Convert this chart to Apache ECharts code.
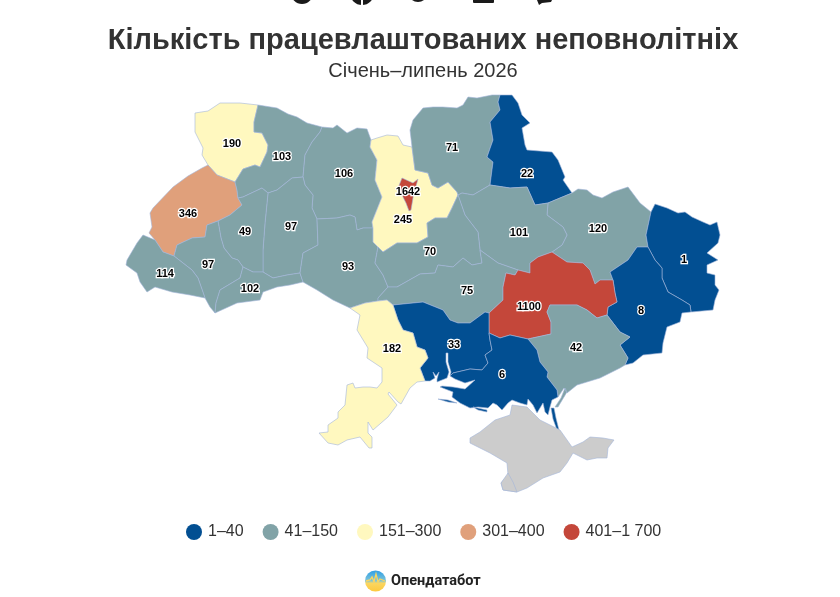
<!DOCTYPE html>
<html>
<head>
<meta charset="utf-8">
<style>html,body{margin:0;padding:0;background:#fff}#c{width:840px;height:597px}</style>
<script src="https://cdn.jsdelivr.net/npm/echarts@6/dist/echarts.min.js"></script>
</head>
<body>
<div id="c"></div>
<script>
// ---------- chart data ----------
const regionNames = ['Волинська','Львівська','Рівненська','Житомирська','Хмельницька','Тернопільська','Івано-Франківська','Закарпатська','Чернівецька','Вінницька','Київська','Чернігівська','Сумська','Харківська','Луганська','Донецька','Полтавська','Черкаська','Кіровоградська','Дніпропетровська','Запорізька','Миколаївська','Херсонська','Одеська','м. Київ'];
const regionValues = [190,346,103,106,97,49,97,114,102,93,245,71,22,120,1,8,101,70,75,1100,42,33,6,182,1642];
const legendLabels = ['1–40','41–150','151–300','301–400','401–1 700'];
const legendLower = [1,41,151,301,401];
const legendUpper = [40,150,300,400,1700];
const legendColors = ['#024f92','#81a3a7','#fff8bf','#e0a07b','#c4473a'];
const titleText = 'Кількість працевлаштованих неповнолітніх';
const subtitleText = 'Січень–липень 2026';
const brandText = 'Опендатабот';

// ---------- map outline (base geometry, shared borders) ----------
const E = {
volOut:[[208,165],[202,155],[203,148],[195,132],[195,113],[208,111],[220,103],[240,103],[258,105]],
volRiv:[[258,105],[254,122],[254,132],[262,133],[268,145],[267,152],[260,167],[255,165],[243,169],[235,182]],
volLv:[[235,182],[217,175],[208,165]],
lvOut:[[208,165],[202,168],[188,176],[173,187],[153,208],[150,213],[152,227],[149,233],[155,240]],
lvZak:[[155,240],[163,252],[174,256]],
lvIf:[[174,256],[177,245],[192,238],[205,237],[207,225],[218,221]],
lvTe:[[218,221],[230,215],[242,205],[238,198]],
lvRiv:[[238,198],[237,190],[235,182]],
rivOut:[[258,105],[277,108],[288,114],[297,117],[307,123],[322,127]],
rivZh:[[322,127],[320,132],[312,142],[305,155],[303,177]],
rivKhm:[[303,177],[292,178],[277,190],[268,193]],
rivTe:[[268,193],[262,188],[243,197],[238,198]],
teKhm:[[268,193],[265,223],[263,250],[263,272]],
teIf:[[218,221],[221,238],[224,248],[232,258],[238,260],[243,267]],
teCh:[[243,267],[253,272],[263,272]],
khmCh:[[263,272],[273,278],[287,275],[300,273]],
khmVn:[[300,273],[303,253],[318,245],[317,219]],
khmZh:[[303,177],[305,185],[313,195],[312,208],[317,219]],
chOut:[[303,282],[290,285],[277,287],[263,292],[260,300],[237,303],[215,313]],
chVn:[[300,273],[303,282]],
chIf:[[243,267],[240,278],[220,290],[216,303],[215,313]],
ifZak:[[174,256],[192,270],[198,278],[205,298]],
ifOut:[[205,298],[210,307],[215,313]],
zakOut:[[155,240],[143,235],[137,243],[127,260],[126,265],[137,273],[140,282],[147,292],[155,287],[172,292],[190,295],[205,298]],
zhVn:[[317,219],[337,218],[350,215],[355,217],[357,230],[363,228],[373,228]],
kyZh:[[373,228],[372,222],[382,197],[375,180],[377,160],[370,147],[371,140]],
zhOut:[[322,127],[333,128],[337,125],[347,133],[357,128],[367,129],[371,140]],
kyVn:[[373,228],[373,242],[378,247]],
vnCh:[[378,247],[375,263],[383,275],[388,287]],
vnKr:[[388,287],[378,298],[378,301]],
vnOd:[[378,301],[365,303],[350,308]],
vnOut:[[350,308],[333,300],[317,290],[303,282]],
kyOut:[[371,140],[377,138],[387,135],[398,136],[403,145],[412,147]],
kyCn:[[412,147],[415,170],[428,173],[432,185],[438,188],[448,182],[457,192],[458,195]],
kyCh:[[458,195],[452,208],[447,218],[435,218],[427,223],[428,237],[417,243],[397,243],[383,252],[378,247]],
cnOut:[[412,147],[410,130],[413,120],[423,108],[433,107],[443,107],[457,108],[463,105],[468,97],[477,98],[492,95],[500,95]],
cnSu:[[500,95],[498,102],[500,110],[490,122],[493,140],[487,157],[493,162],[490,185]],
cnPl:[[490,185],[473,195],[462,193],[458,195]],
suOut:[[500,95],[512,95],[518,103],[522,115],[530,123],[522,128],[525,145],[527,150],[552,152],[558,160],[565,177],[563,180],[572,193]],
suKh:[[572,193],[548,203]],
suPl:[[490,185],[510,188],[527,187],[535,205],[548,203]],
khOut:[[572,193],[578,189],[587,190],[593,195],[602,198],[613,192],[628,187],[640,203],[651,212]],
khLu:[[651,212],[646,235],[648,247]],
khDo:[[648,247],[637,247],[628,260],[610,272],[613,280]],
khDn:[[613,280],[600,280],[595,284],[590,270],[583,263],[567,262],[552,252]],
khPl:[[548,203],[547,215],[563,227],[567,235],[562,245],[552,252]],
plDn:[[552,252],[538,257],[530,263],[530,273],[518,270]],
plKr:[[518,270],[498,263],[480,250]],
plCh:[[480,250],[478,232],[465,215],[458,195]],
chKr:[[480,250],[482,263],[472,265],[463,258],[453,267],[438,265],[435,273],[420,274],[397,287],[388,287]],
krDn:[[518,270],[515,275],[506,273],[503,287],[503,300],[489,313]],
krMk:[[489,313],[485,312],[470,323],[458,323],[450,320],[443,310],[423,302],[393,305]],
krOd:[[393,305],[387,300],[378,301]],
mkOd:[[393,305],[398,320],[403,330],[413,333],[417,347],[425,350],[428,358],[420,368],[425,381]],
mkDn:[[489,313],[489,333]],
mkOut:[[425,381],[430,381],[435,378],[433,372],[436,376],[439,372],[437,379],[437,382],[447,378],[449,372],[446,362],[446,353],[448,353],[448,362],[451,372],[450,376]],
mkKh:[[450,376],[453,373],[470,369],[482,370],[488,363],[485,355],[492,350],[490,340],[489,333]],
khnDn:[[489,333],[500,338],[510,335],[528,339]],
znDn:[[528,339],[551,334],[551,322],[547,312],[550,305],[577,305],[587,310],[597,318],[607,315]],
doDn:[[613,280],[615,293],[617,302],[608,307],[607,315]],
znDo:[[607,315],[620,332],[630,337],[620,345],[628,358],[625,365]],
znOut:[[625,365],[620,368],[600,378],[577,385],[567,393],[564,388],[558,397]],
znKhn:[[528,339],[537,350],[540,362],[548,372],[547,377],[557,390],[558,397]],
khnOut:[[558,397],[552,400],[550,407],[548,415],[545,412],[543,403],[537,413],[533,405],[528,399],[527,405],[520,403],[512,400],[508,403],[502,410],[497,405],[493,403],[488,408],[478,407],[470,408],[460,403],[452,397],[453,392],[440,387],[442,386],[453,387],[465,389],[475,380],[465,383],[455,379],[450,376]],
doOut:[[625,365],[633,363],[643,355],[662,353],[663,343],[667,327],[680,322],[682,313],[691,312]],
luDo:[[648,247],[655,260],[662,268],[662,278],[668,292],[682,300],[690,305],[691,312]],
luOut:[[651,212],[655,204],[667,208],[678,213],[685,212],[692,217],[703,222],[710,225],[717,222],[720,235],[718,243],[707,253],[718,260],[707,265],[707,273],[715,275],[715,285],[719,290],[715,300],[713,310],[691,312]],
odOut:[[425,381],[417,382],[410,388],[401,404],[398,402],[389,392],[388,394],[397,405],[388,417],[373,430],[368,422],[368,433],[372,437],[372,448],[369,448],[360,437],[347,440],[338,445],[328,443],[319,433],[328,432],[328,425],[338,418],[338,412],[345,405],[347,385],[353,383],[355,388],[363,387],[370,387],[377,388],[382,382],[382,368],[367,358],[368,348],[357,330],[360,315],[350,308]]
};
const outlines = {
'Волинська':['volOut','volRiv','volLv'],
'Львівська':['lvOut','lvZak','lvIf','lvTe','lvRiv','volLv'],
'Рівненська':['rivOut','rivZh','rivKhm','rivTe','lvRiv','-volRiv'],
'Житомирська':['zhOut','-kyZh','-zhVn','-khmZh','-rivZh'],
'Хмельницька':['-rivKhm','khmZh','-khmVn','-khmCh','-teKhm'],
'Тернопільська':['lvTe','-rivTe','teKhm','-teCh','-teIf'],
'Івано-Франківська':['lvIf','teIf','chIf','-ifOut','-ifZak'],
'Закарпатська':['zakOut','-ifZak','-lvZak'],
'Чернівецька':['teCh','khmCh','chVn','chOut','-chIf'],
'Вінницька':['zhVn','kyVn','vnCh','vnKr','vnOd','vnOut','-chVn','khmVn'],
'Київська':['kyOut','kyCn','kyCh','-kyVn','kyZh'],
'Чернігівська':['cnOut','cnSu','cnPl','-kyCn'],
'Сумська':['suOut','suKh','-suPl','-cnSu'],
'Харківська':['khOut','khLu','khDo','khDn','-khPl','-suKh'],
'Луганська':['luOut','-luDo','-khLu'],
'Донецька':['-khDo','luDo','-doOut','-znDo','-doDn'],
'Полтавська':['-cnPl','suPl','khPl','plDn','plKr','plCh'],
'Черкаська':['-kyCh','-plCh','chKr','-vnCh'],
'Кіровоградська':['-chKr','-plKr','krDn','krMk','krOd','-vnKr'],
'Дніпропетровська':['-plDn','-khDn','doDn','-znDn','-khnDn','-mkDn','-krDn'],
'Запорізька':['znDn','znDo','znOut','-znKhn'],
'Миколаївська':['-krMk','mkDn','-mkKh','-mkOut','-mkOd'],
'Херсонська':['mkKh','khnDn','znKhn','khnOut'],
'Одеська':['-krOd','mkOd','odOut','-vnOd']
};
const extraRings = {
'Херсонська':[
 [[438,399],[448,400],[457,403],[448,402]],
 [[473,407],[487,410],[487,412],[478,410]],
 [[551,408],[554,408],[556,418],[559,430],[557,430],[553,419]]
],
'Запорізька':[[[565,388],[567,392],[558,407],[555,407],[561,398]]]
};
const cityRing = [[398,188],[402,178],[413,183],[418,179],[415,190],[413,198],[411,210],[409,211],[406,203],[401,193]];
const crimeaRing = [[470,443],[470,438],[480,432],[495,420],[510,415],[512,405],[527,407],[540,420],[560,430],[572,447],[583,442],[590,437],[603,438],[614,440],[608,448],[607,458],[597,458],[587,460],[573,453],[567,463],[560,472],[543,478],[527,488],[517,492],[503,490],[501,483],[508,475],[507,463],[490,453]];
const sevastopolRing = [[508,473],[513,482],[517,492],[503,490],[501,483]];
const labelSpots = {
'Волинська':[232,143],'Львівська':[188,213],'Рівненська':[282,156],'Житомирська':[344,173],'Хмельницька':[291,226],'Тернопільська':[245,231],'Івано-Франківська':[208,264],'Закарпатська':[165,273],'Чернівецька':[250,288],'Вінницька':[348,266],'Київська':[403,219],'Чернігівська':[452,147],'Сумська':[527,173],'Харківська':[598,228],'Луганська':[684,259],'Донецька':[641,310],'Полтавська':[519,232],'Черкаська':[430,251],'Кіровоградська':[467,290],'Дніпропетровська':[529,306],'Запорізька':[576,347],'Миколаївська':[454,344],'Херсонська':[502,374],'Одеська':[392,348],'м. Київ':[408,191]
};

const flip = p => [p[0], -p[1]];
function ringOf(list){
  const out = [];
  list.forEach(k => {
    const rev = k[0] === '-';
    const pts = E[rev ? k.slice(1) : k].slice();
    if (rev) pts.reverse();
    pts.forEach((p,i) => { if (i > 0 || out.length === 0) out.push(p); });
  });
  return out;
}
const closeRing = r => { const q = r.map(flip); q.push(q[0]); return [q]; };
function feature(name, rings){
  const cp = labelSpots[name];
  return {type:'Feature', properties:{name, cp: cp ? flip(cp) : undefined},
    geometry:{type:'MultiPolygon', coordinates: rings.map(closeRing)}};
}
const features = Object.keys(outlines).map(n => feature(n, [ringOf(outlines[n])].concat(extraRings[n] || [])));
features.push(feature('Крим',[crimeaRing]));
features.push(feature('Севастополь',[sevastopolRing]));
features.push(feature('м. Київ',[cityRing]));
const geoJson = {type:'FeatureCollection', features};
echarts.registerMap('ua', geoJson);

let minX=1e9,maxX=-1e9,minY=1e9,maxY=-1e9;
features.forEach(f => f.geometry.coordinates.forEach(pg => pg[0].forEach(p => {
  minX=Math.min(minX,p[0]);maxX=Math.max(maxX,p[0]);minY=Math.min(minY,-p[1]);maxY=Math.max(maxY,-p[1]);
})));

const chart = echarts.init(document.getElementById('c'), null, {renderer:'canvas'});
chart.setOption({
  animation:false,
  backgroundColor:'#fff',
  title:{text:titleText, subtext:subtitleText, left:418, top:21, textAlign:'center', itemGap:6,
    textStyle:{fontFamily:'Liberation Sans',fontWeight:'bold',fontSize:29,color:'#333333'},
    subtextStyle:{fontFamily:'Liberation Sans',fontSize:20,color:'#333333'}},
  visualMap:{type:'piecewise', orient:'horizontal', left:171, top:509, itemWidth:16, itemHeight:16, itemGap:19,
    itemSymbol:'circle', textGap:6, showLabel:true, selectedMode:false, hoverLink:false,
    textStyle:{fontFamily:'Liberation Sans',fontSize:16,color:'#333333'},
    pieces:legendLabels.map((t,i)=>({min:legendLower[i],max:legendUpper[i],label:t,color:legendColors[i]}))},
  series:[{type:'map', map:'ua', aspectScale:1, left:minX, top:minY, width:maxX-minX, height:maxY-minY,
    roam:false, silent:true, selectedMode:false,
    itemStyle:{areaColor:'#cccccc',borderColor:'#a3b6da',borderWidth:0.6},
    label:{show:true,fontFamily:'Liberation Sans',fontWeight:'bold',fontSize:11,color:'#000',offset:[0,1],
      textBorderColor:'#fff',textBorderWidth:2.5,
      formatter:p=>isNaN(p.value)?'':String(p.value)},
    data:regionNames.map((n,i)=>({name:n,value:regionValues[i]}))}],
  graphic:[
    {type:'circle',shape:{cx:302,cy:-7,r:11},style:{fill:'#1a1a1a'}},
    {type:'circle',shape:{cx:362,cy:-7,r:12},style:{fill:'#1a1a1a'}},
    {type:'rect',shape:{x:361,y:0,width:2,height:6},style:{fill:'#fff'}},
    {type:'circle',shape:{cx:418,cy:-8,r:10},style:{fill:'#1a1a1a'}},
    {type:'rect',shape:{x:473,y:-4,width:21,height:7,r:1},style:{fill:'#1a1a1a'}},
    {type:'polygon',shape:{points:[[537,0],[552,0],[551,2],[542,3],[539,5]]},style:{fill:'#1a1a1a'}},
    {type:'circle',shape:{cx:375.5,cy:581,r:10.5},style:{fill:{type:'linear',x:0,y:0,x2:0,y2:1,colorStops:[{offset:0,color:'#2f9fe6'},{offset:0.48,color:'#7cc3d8'},{offset:0.6,color:'#fbd660'},{offset:1,color:'#fdc93f'}]}}},
    {type:'polyline',shape:{points:[[366,581],[370,580],[372,577],[374,582],[376,574],[378,582],[380,579],[385,581]]},style:{stroke:'#fbd660',lineWidth:1.3,fill:null}},
    {type:'text',x:391,y:581,style:{text:brandText,font:'bold 14.5px Roboto',fill:'#222',verticalAlign:'middle'}}
  ]
});
</script>
</body>
</html>
